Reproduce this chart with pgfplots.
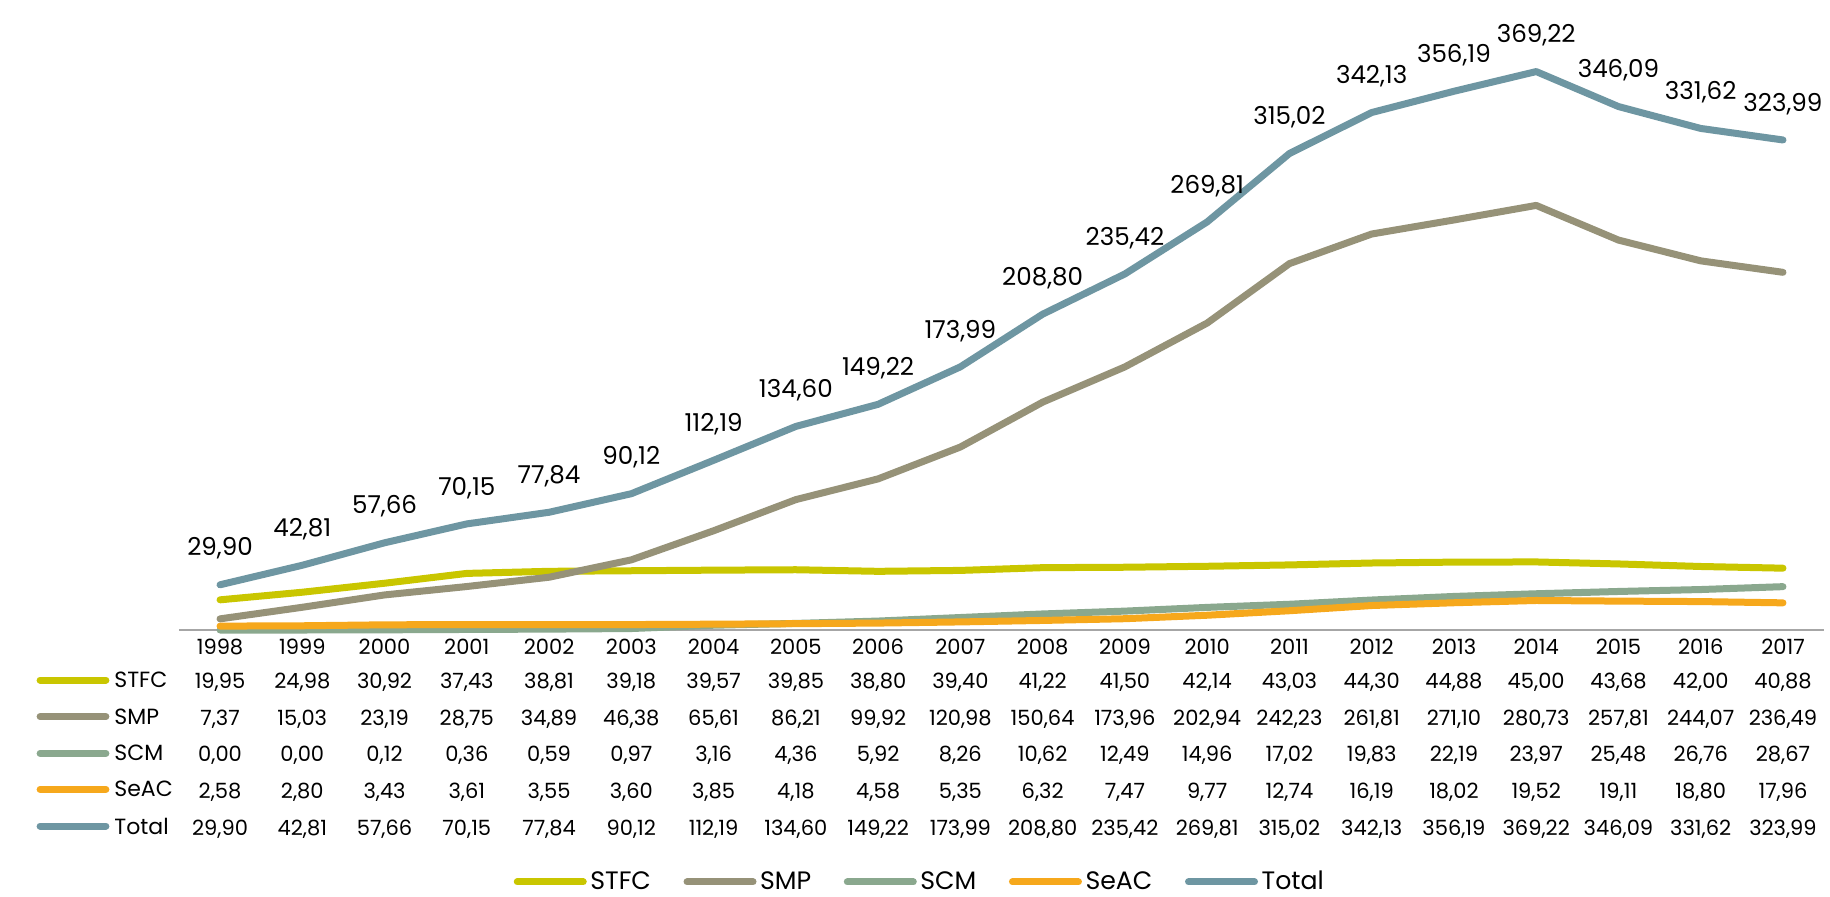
\documentclass[border=0pt]{standalone}
\usepackage{fontspec}
\setmainfont{Poppins}
\usepackage{pgfplots}
\usepackage{pgfplotstable}
\pgfplotsset{compat=1.18}
\definecolor{cSTFC}{RGB}{201,198,0}
\definecolor{cSMP}{RGB}{150,146,120}
\definecolor{cSCM}{RGB}{138,168,142}
\definecolor{cSeAC}{RGB}{246,168,28}
\definecolor{cTotal}{RGB}{110,150,162}
\pgfplotstableread{
x STFC SMP SCM SeAC Total
0 19.95 7.37 0.00 2.58 29.90
1 24.98 15.03 0.00 2.80 42.81
2 30.92 23.19 0.12 3.43 57.66
3 37.43 28.75 0.36 3.61 70.15
4 38.81 34.89 0.59 3.55 77.84
5 39.18 46.38 0.97 3.60 90.12
6 39.57 65.61 3.16 3.85 112.19
7 39.85 86.21 4.36 4.18 134.60
8 38.80 99.92 5.92 4.58 149.22
9 39.40 120.98 8.26 5.35 173.99
10 41.22 150.64 10.62 6.32 208.80
11 41.50 173.96 12.49 7.47 235.42
12 42.14 202.94 14.96 9.77 269.81
13 43.03 242.23 17.02 12.74 315.02
14 44.30 261.81 19.83 16.19 342.13
15 44.88 271.10 22.19 18.02 356.19
16 45.00 280.73 23.97 19.52 369.22
17 43.68 257.81 25.48 19.11 346.09
18 42.00 244.07 26.76 18.80 331.62
19 40.88 236.49 28.67 17.96 323.99
}\datatable
\begin{document}
\begin{tikzpicture}[x=1pt,y=1pt]
\useasboundingbox (0,0) rectangle (915,448);
\begin{axis}[
  at={(89.45pt,133pt)}, anchor=south west,
  scale only axis, width=822.6pt, height=302.5pt,
  xmin=-0.5, xmax=19.5, ymin=0, ymax=400,
  axis x line=bottom, axis y line=none,
  x axis line style={-, draw=gray!70, line width=0.8pt},
  xtick={0,...,19}, major tick length=0pt,
  ytick=\empty,
  clip=false,
  xticklabel style={anchor=north, inner sep=0pt, yshift=-4.3pt, align=center,
    font=\fontsize{10.5}{18.35}\selectfont},
  xticklabels={
    {1998\\[-1.35pt]19,95\\7,37\\0,00\\2,58\\29,90},
    {1999\\[-1.35pt]24,98\\15,03\\0,00\\2,80\\42,81},
    {2000\\[-1.35pt]30,92\\23,19\\0,12\\3,43\\57,66},
    {2001\\[-1.35pt]37,43\\28,75\\0,36\\3,61\\70,15},
    {2002\\[-1.35pt]38,81\\34,89\\0,59\\3,55\\77,84},
    {2003\\[-1.35pt]39,18\\46,38\\0,97\\3,60\\90,12},
    {2004\\[-1.35pt]39,57\\65,61\\3,16\\3,85\\112,19},
    {2005\\[-1.35pt]39,85\\86,21\\4,36\\4,18\\134,60},
    {2006\\[-1.35pt]38,80\\99,92\\5,92\\4,58\\149,22},
    {2007\\[-1.35pt]39,40\\120,98\\8,26\\5,35\\173,99},
    {2008\\[-1.35pt]41,22\\150,64\\10,62\\6,32\\208,80},
    {2009\\[-1.35pt]41,50\\173,96\\12,49\\7,47\\235,42},
    {2010\\[-1.35pt]42,14\\202,94\\14,96\\9,77\\269,81},
    {2011\\[-1.35pt]43,03\\242,23\\17,02\\12,74\\315,02},
    {2012\\[-1.35pt]44,30\\261,81\\19,83\\16,19\\342,13},
    {2013\\[-1.35pt]44,88\\271,10\\22,19\\18,02\\356,19},
    {2014\\[-1.35pt]45,00\\280,73\\23,97\\19,52\\369,22},
    {2015\\[-1.35pt]43,68\\257,81\\25,48\\19,11\\346,09},
    {2016\\[-1.35pt]42,00\\244,07\\26,76\\18,80\\331,62},
    {2017\\[-1.35pt]40,88\\236,49\\28,67\\17,96\\323,99}},
  every axis plot/.append style={line width=3.5pt, line cap=round, line join=round, no markers},
  legend image code/.code={\draw[#1] (1.75pt,0pt) -- (34.75pt,0pt);},
  legend columns=5,
  legend style={at={(0.4508,-0.4165)}, anchor=center, draw=none, fill=none,
    font=\fontsize{12.6}{14}\selectfont,
    nodes={inner sep=1.8pt},
    /tikz/every even column/.append style={column sep=14.5pt}},
]
\addplot[cSTFC] table[x=x, y=STFC] {\datatable};
\addlegendentry{STFC}
\addplot[cSMP] table[x=x, y=SMP] {\datatable};
\addlegendentry{SMP}
\addplot[cSCM] table[x=x, y=SCM] {\datatable};
\addlegendentry{SCM}
\addplot[cSeAC] table[x=x, y=SeAC] {\datatable};
\addlegendentry{SeAC}
\addplot[cTotal,
  nodes near coords={\pgfmathprintnumber[fixed,fixed zerofill,precision=2,use comma,assume math mode=true]{\pgfplotspointmeta}},
  every node near coord/.append style={anchor=base, inner sep=0pt, yshift=14.4pt, text=black,
    font=\fontsize{12.3}{14}\selectfont}
  ] table[x=x, y=Total] {\datatable};
\addlegendentry{Total}
\end{axis}
\begin{scope}[line width=3.5pt, line cap=round]
\draw[cSTFC]  (20.05,108)   -- (52.95,108);
\draw[cSMP]   (20.05,89.65) -- (52.95,89.65);
\draw[cSCM]   (20.05,71.35) -- (52.95,71.35);
\draw[cSeAC]  (20.05,53.35) -- (52.95,53.35);
\draw[cTotal] (20.05,35)    -- (52.95,35);
\end{scope}
\begin{scope}[every node/.style={anchor=west, inner sep=0pt, font=\fontsize{11}{13}\selectfont}]
\node at (57,108) {STFC};
\node at (57,89.65) {SMP};
\node at (57,71.35) {SCM};
\node at (57,53.35) {SeAC};
\node at (57,35) {Total};
\end{scope}
\end{tikzpicture}
\end{document}
